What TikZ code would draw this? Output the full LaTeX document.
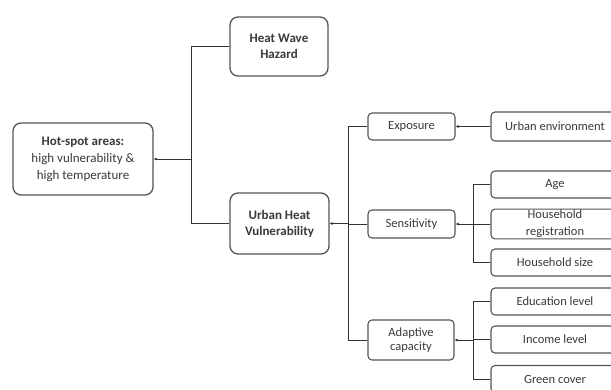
\documentclass[tikz,border=0pt]{standalone}
\usepackage{fontspec}
\setmainfont{Carlito}
\usetikzlibrary{arrows.meta}
\definecolor{boxline}{HTML}{555555}
\definecolor{txt}{HTML}{3A3A3A}
\begin{document}
\begin{tikzpicture}[x=1pt,y=-1pt,
  bigbox/.style={draw=boxline,line width=1.3pt,rounded corners=8pt,align=center,
    text=txt,font=\fontsize{13}{16}\selectfont,inner sep=1pt},
  smallbox/.style={draw=boxline,line width=1.1pt,rounded corners=4pt,align=center,
    text=txt,font=\fontsize{12.5}{14}\selectfont,inner sep=1pt,minimum height=27pt},
  conn/.style={draw=black!80,line width=0.9pt},
  tipconn/.style={conn,{Latex[length=3pt,width=3pt]}-}]
\useasboundingbox (0,0) rectangle (611,390);
\clip (0,0) rectangle (611,390);
\fill[white] (0,0) rectangle (611,390);
% level 0/1
\node[bigbox,minimum width=98pt,minimum height=59pt] (haz) at (279,46.5) {\textbf{Heat Wave}\\\textbf{Hazard}};
\node[bigbox,minimum width=140pt,minimum height=72pt,font=\fontsize{13}{17}\selectfont] (hot) at (83,159) {\textbf{Hot-spot areas:}\\high vulnerability \&\\high temperature};
\node[bigbox,minimum width=99pt,minimum height=61pt] (uhv) at (279.5,223.5) {\textbf{Urban Heat}\\\textbf{Vulnerability}};
% level 2
\node[smallbox,minimum width=87pt] (exp) at (411.5,126.5) {Exposure};
\node[smallbox,minimum width=87pt,minimum height=28pt] (sen) at (411.5,224) {Sensitivity};
\node[smallbox,minimum width=86pt,minimum height=40pt,font=\fontsize{12.5}{14}\selectfont] (ada) at (411,340) {Adaptive\\capacity};
% level 3
\node[smallbox,minimum width=128pt,minimum height=29pt] (env) at (555,126.5) {Urban environment};
\node[smallbox,minimum width=128pt] (age) at (555,184.5) {Age};
\node[smallbox,minimum width=128pt,minimum height=28pt,font=\fontsize{12.5}{17}\selectfont] (reg) at (555,224) {Household\\registration};
\node[smallbox,minimum width=128pt] (hsz) at (555,262.5) {Household size};
\node[smallbox,minimum width=128pt] (edu) at (555,301.5) {Education level};
\node[smallbox,minimum width=128pt] (inc) at (555,339.5) {Income level};
\node[smallbox,minimum width=128pt] (grn) at (555,379) {Green cover};
% connector columns
\coordinate (v1) at (191,0);
\coordinate (v2) at (348,0);
\coordinate (v3) at (473,0);
% first level
\draw[conn] (haz.west) -- (haz.west -| v1) -- (uhv.west -| v1) -- (uhv.west);
\draw[tipconn] (hot.east) -- (hot.east -| v1);
% second level
\draw[conn] (exp.west) -- (exp.west -| v2) -- (ada.west -| v2) -- (ada.west);
\draw[conn] (sen.west) -- (sen.west -| v2);
\draw[tipconn] (uhv.east) -- (uhv.east -| v2);
% exposure
\draw[tipconn] (exp.east) -- (env.west);
% sensitivity
\draw[conn] (age.west) -- (age.west -| v3) -- (hsz.west -| v3) -- (hsz.west);
\draw[conn] (reg.west) -- (reg.west -| v3);
\draw[tipconn] (sen.east) -- (sen.east -| v3);
% adaptive capacity
\draw[conn] (edu.west) -- (edu.west -| v3) -- (grn.west -| v3) -- (grn.west);
\draw[conn] (inc.west) -- (inc.west -| v3);
\draw[tipconn] (ada.east) -- (ada.east -| v3);
\end{tikzpicture}
\end{document}
